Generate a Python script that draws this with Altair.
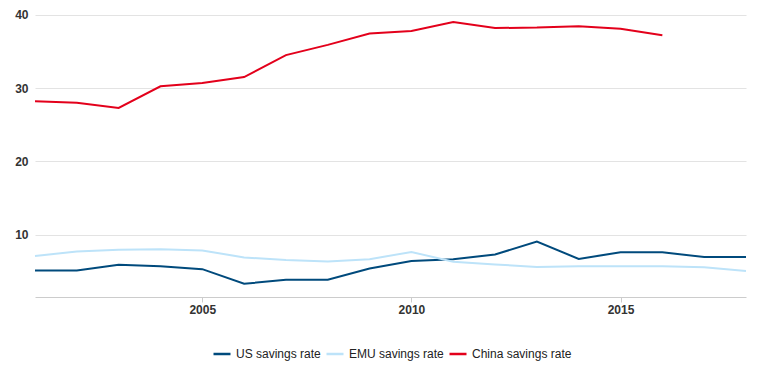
import altair as alt
import pandas as pd

years = list(range(2001, 2019))
us = [5.1, 5.1, 5.9, 5.7, 5.3, 3.3, 3.85, 3.85, 5.4, 6.4, 6.65, 7.3, 9.05, 6.7, 7.6, 7.6, 6.95, 6.95]
emu = [7.1, 7.7, 7.95, 8.0, 7.85, 6.9, 6.55, 6.35, 6.65, 7.65, 6.3, 5.95, 5.6, 5.7, 5.7, 5.7, 5.55, 5.05]
china_years = list(range(2001, 2017))
china = [28.2, 28.0, 27.3, 30.25, 30.7, 31.5, 34.5, 35.9, 37.45, 37.8, 39.0, 38.2, 38.25, 38.45, 38.1, 37.2]

series = ["US savings rate", "EMU savings rate", "China savings rate"]
colors = ["#004a7c", "#bde3f9", "#e3001b"]

rows = []
for y, v in zip(years, us):
    rows.append({"year": y, "value": v, "series": series[0]})
for y, v in zip(years, emu):
    rows.append({"year": y, "value": v, "series": series[1]})
for y, v in zip(china_years, china):
    rows.append({"year": y, "value": v, "series": series[2]})
df = pd.DataFrame(rows)

chart = alt.Chart(df).mark_line(strokeWidth=2).encode(
    x=alt.X("year:Q", scale=alt.Scale(domain=[2001, 2018], nice=False, zero=False),
            axis=alt.Axis(values=[2005, 2010, 2015], format="d", title=None, grid=False,
                          domainColor="#cccccc", tickColor="#cccccc", tickSize=5,
                          labelFont="Liberation Sans", labelFontWeight="bold", labelFontSize=12,
                          labelColor="#333333", labelPadding=2)),
    y=alt.Y("value:Q", scale=alt.Scale(domain=[1.5, 41.2], nice=False, zero=False),
            axis=alt.Axis(values=[10, 20, 30, 40], title=None, domain=False, ticks=False,
                          gridColor="#e3e3e3", labelFont="Liberation Sans", labelFontWeight="bold",
                          labelFontSize=12, labelColor="#333333", labelPadding=7)),
    color=alt.Color("series:N", scale=alt.Scale(domain=series, range=colors),
                    sort=series,
                    legend=alt.Legend(title=None, orient="none", direction="horizontal",
                                      legendX=177, legendY=338,
                                      symbolType="stroke", symbolSize=289, symbolStrokeWidth=2.5,
                                      labelFont="Liberation Sans", labelFontSize=12, labelColor="#222222",
                                      columnPadding=0, labelOffset=4)),
).properties(
    width=711, height=291,
    autosize=alt.AutoSizeParams(type="none"),
    padding={"left": 35, "top": 6, "right": 15, "bottom": 80},
).configure_view(stroke=None)

chart.save("out.html", embed_options={"renderer": "svg", "actions": False})
